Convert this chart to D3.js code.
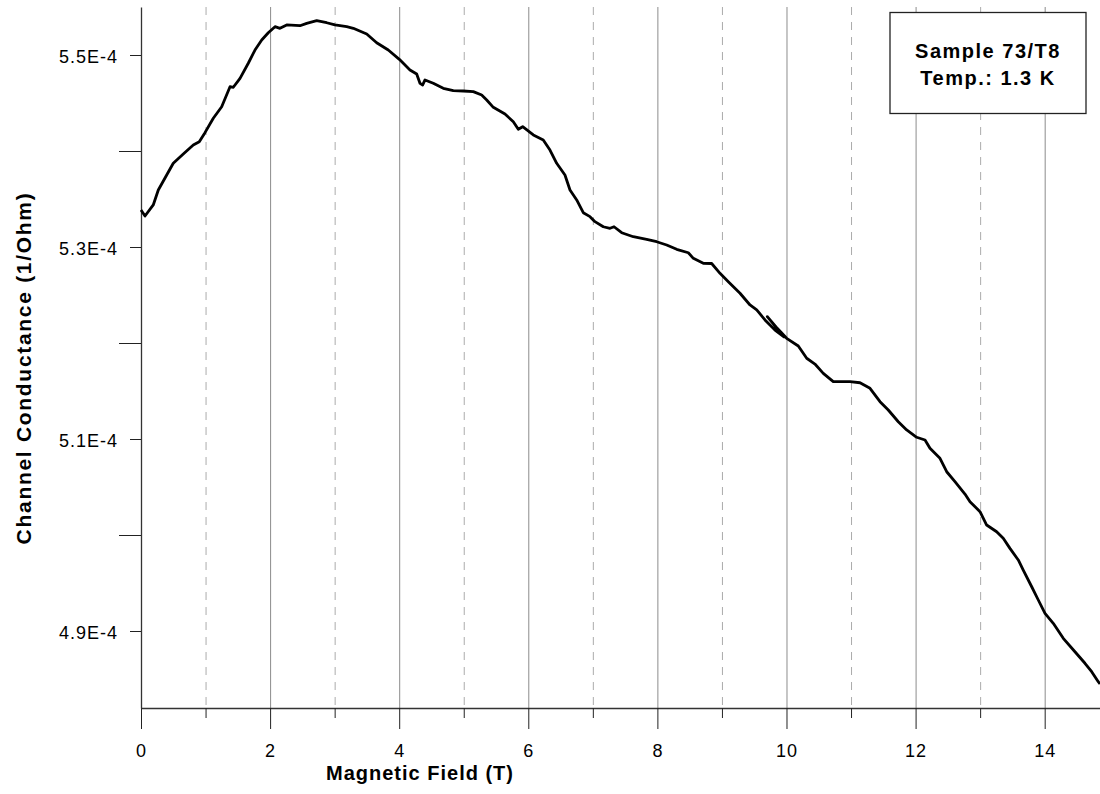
<!DOCTYPE html>
<html>
<head>
<meta charset="utf-8">
<script src="https://cdn.jsdelivr.net/npm/d3@7"></script>
<style>
  body { margin: 0; background: #fff; }
  svg { display: block; font-family: "Liberation Sans", Arial, sans-serif; }
  .tick text { font-size: 18px; letter-spacing: 1px; fill: #000; }
  .axisTitle { font-size: 20px; font-weight: bold; letter-spacing: 1px; fill: #000; }
</style>
</head>
<body>
<div id="chart"></div>
<script>
// magnetic field (T)
var field = [0, 0.062, 0.19, 0.268, 0.398, 0.5, 0.655, 0.81, 0.903, 0.991, 1.12, 1.25, 1.379, 1.43, 1.534,
  1.662, 1.766, 1.87, 1.972, 2.076, 2.153, 2.257, 2.463, 2.567, 2.722, 2.877, 3.005, 3.187, 3.289, 3.497,
  3.651, 3.831, 4.002, 4.167, 4.271, 4.322, 4.364, 4.4, 4.528, 4.683, 4.838, 4.993, 5.148, 5.278, 5.356,
  5.458, 5.639, 5.768, 5.845, 5.913, 6.078, 6.232, 6.336, 6.44, 6.568, 6.646, 6.75, 6.852, 6.956, 7.033,
  7.162, 7.266, 7.328, 7.447, 7.627, 7.834, 7.989, 8.144, 8.299, 8.479, 8.557, 8.711, 8.841, 8.97, 9.099,
  9.28, 9.435, 9.539, 9.667, 9.822, 9.961, 9.703, 9.838, 10.003, 10.183, 10.313, 10.441, 10.57, 10.725,
  10.88, 10.984, 11.139, 11.294, 11.449, 11.577, 11.732, 11.862, 12.017, 12.146, 12.223, 12.378, 12.482,
  12.61, 12.765, 12.843, 12.998, 13.101, 13.256, 13.358, 13.462, 13.591, 13.668, 13.799, 13.901, 14.005,
  14.133, 14.288, 14.469, 14.624, 14.728, 14.83, 14.857];

// channel conductance, in units of 1E-4 1/Ohm
var conductance = [5.3385, 5.3323, 5.3438, 5.3594, 5.375, 5.3872, 5.3969, 5.4063, 5.4097, 5.4191, 5.4341,
  5.4461, 5.467, 5.4664, 5.4757, 5.4914, 5.5052, 5.5156, 5.5232, 5.5295, 5.5278, 5.5313, 5.5305, 5.533,
  5.5357, 5.5336, 5.5313, 5.5295, 5.5278, 5.5219, 5.5128, 5.5052, 5.4955, 5.4844, 5.4802, 5.4705, 5.4688,
  5.474, 5.4705, 5.4653, 5.4628, 5.4625, 5.4618, 5.4583, 5.4531, 5.4455, 5.4385, 5.4305, 5.4226, 5.4253,
  5.4167, 5.4115, 5.401, 5.3872, 5.375, 5.3594, 5.349, 5.3357, 5.3316, 5.3264, 5.3211, 5.3195, 5.3211,
  5.3149, 5.3107, 5.308, 5.3055, 5.3021, 5.2976, 5.294, 5.2882, 5.283, 5.2828, 5.2726, 5.2639, 5.2518,
  5.2396, 5.2344, 5.224, 5.2135, 5.2063, 5.2274, 5.2167, 5.2049, 5.1969, 5.1841, 5.1781, 5.1684, 5.1597,
  5.1597, 5.1597, 5.1586, 5.1528, 5.1389, 5.1302, 5.118, 5.1094, 5.1018, 5.099, 5.0903, 5.0799, 5.0659,
  5.0555, 5.0427, 5.0347, 5.0243, 5.0104, 5.0034, 4.9966, 4.9861, 4.974, 4.9635, 4.9461, 4.9323, 4.9184,
  4.908, 4.8924, 4.8784, 4.8664, 4.8576, 4.8472, 4.8448];

var xTicks = [0, 1, 2, 3, 4, 5, 6, 7, 8, 9, 10, 11, 12, 13, 14];
var yTicks = [4.9, 5.0, 5.1, 5.2, 5.3, 5.4, 5.5];
var yLabelled = [4.9, 5.1, 5.3, 5.5];
var legendLines = ["Sample 73/T8", "Temp.: 1.3 K"];

var svgWidth = 1100;
var svgHeight = 794;

var svg = d3.select("#chart")
  .append("svg")
  .attr("width", svgWidth)
  .attr("height", svgHeight);

var xScale = d3.scaleLinear().domain([0, 14.857]).range([141, 1100]);
var yScale = d3.scaleLinear().domain([4.8198, 5.55]).range([708, 7]);

// grid lines, solid on even, dashed on odd
svg.append("g")
  .selectAll("line")
  .data(xTicks.filter(d => d > 0))
  .enter()
  .append("line")
  .attr("x1", d => xScale(d) + 0.5)
  .attr("x2", d => xScale(d) + 0.5)
  .attr("y1", 7)
  .attr("y2", 708)
  .attr("stroke", d => d % 2 === 0 ? "#8c8c8c" : "#ababab")
  .attr("stroke-width", 1)
  .attr("stroke-dasharray", d => d % 2 === 0 ? null : "8,7");

// x axis
var xAxis = svg.append("g")
  .attr("transform", "translate(0, 708)")
  .call(d3.axisBottom(xScale)
    .tickValues(xTicks)
    .tickSizeInner(21)
    .tickSizeOuter(0)
    .tickPadding(15)
    .tickFormat(d => d % 2 === 0 ? d : ""));

xAxis.select(".domain").attr("stroke", "#333").attr("stroke-width", 1.3);
xAxis.selectAll(".tick line")
  .attr("y2", d => d % 2 === 0 ? 21 : 10)
  .attr("stroke", "#222");
xAxis.selectAll(".tick text").attr("font-family", null).attr("font-size", null);

// y axis
var yAxis = svg.append("g")
  .attr("transform", "translate(141, 0)")
  .call(d3.axisLeft(yScale)
    .tickValues(yTicks)
    .tickSizeInner(11)
    .tickSizeOuter(0)
    .tickPadding(12)
    .tickFormat(d => yLabelled.indexOf(d) >= 0 ? d.toFixed(1) + "E-4" : ""));

yAxis.select(".domain").attr("stroke", "#333").attr("stroke-width", 1.3);
yAxis.selectAll(".tick line")
  .attr("x2", d => yLabelled.indexOf(d) >= 0 ? -11 : -22)
  .attr("stroke", "#222");
yAxis.selectAll(".tick text")
  .attr("font-family", null)
  .attr("font-size", null)
  .attr("dy", 7);

// data curve
var points = field.map((f, i) => [f, conductance[i]]);

var line = d3.line()
  .x(d => xScale(d[0]))
  .y(d => yScale(d[1]));

svg.append("path")
  .datum(points)
  .attr("d", line)
  .attr("fill", "none")
  .attr("stroke", "#000")
  .attr("stroke-width", 2.8)
  .attr("stroke-linejoin", "round");

// legend box
var legend = svg.append("g");

legend.append("rect")
  .attr("x", 890)
  .attr("y", 12.5)
  .attr("width", 196)
  .attr("height", 101)
  .attr("fill", "#fff")
  .attr("stroke", "#222")
  .attr("stroke-width", 1.3);

legend.selectAll("text")
  .data(legendLines)
  .enter()
  .append("text")
  .attr("class", "axisTitle")
  .attr("x", 988)
  .attr("y", (d, i) => 58 + i * 27)
  .attr("text-anchor", "middle")
  .style("letter-spacing", "1.5px")
  .text(d => d);

// axis titles
svg.append("text")
  .attr("class", "axisTitle")
  .attr("x", 420)
  .attr("y", 780)
  .attr("text-anchor", "middle")
  .text("Magnetic Field (T)");

svg.append("text")
  .attr("class", "axisTitle")
  .attr("transform", "translate(31, 368) rotate(-90)")
  .attr("text-anchor", "middle")
  .style("font-size", "21px")
  .style("letter-spacing", "1.7px")
  .text("Channel Conductance (1/Ohm)");
</script>
</body>
</html>
